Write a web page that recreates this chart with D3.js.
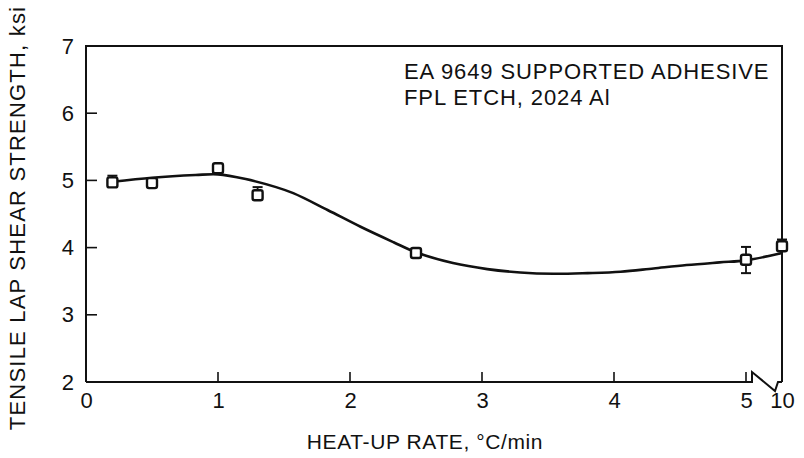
<!DOCTYPE html>
<html>
<head>
<meta charset="utf-8">
<script src="https://cdn.jsdelivr.net/npm/d3@7"></script>
<style>
  html, body { margin: 0; padding: 0; background: #fff; }
  svg { display: block; }
  text { font-family: "Liberation Sans", Arial, Helvetica, sans-serif; fill: #111; }
</style>
</head>
<body>
<svg id="chart" width="804" height="458"></svg>
<script>
// Measured shear strength (ksi) vs heat-up rate (°C/min)
const rates     = [0.2, 0.5, 1.0, 1.3, 2.5, 5, 10];
const strength  = [4.97, 4.96, 5.18, 4.78, 3.92, 3.82, 4.02];
const errLow    = [null, null, null, null, null, 3.62, null];
const errHigh   = [5.07, null, 5.23, 4.90, null, 4.01, 4.12];

// Smoothed trend curve through the data
const fitX = [0.2, 0.5, 0.83, 1.0, 1.21, 1.44, 1.57, 1.83, 2.08, 2.33, 2.5, 2.78, 3.04, 3.29, 3.54, 3.8, 4.05, 4.3, 4.55, 4.8, 5.0, 10];
const fitY = [4.98, 5.04, 5.08, 5.09, 5.02, 4.90, 4.81, 4.56, 4.31, 4.08, 3.93, 3.77, 3.68, 3.63, 3.61, 3.62, 3.64, 3.69, 3.74, 3.78, 3.81, 3.92];

// Axis ticks (the x axis has a break between 5 and 10)
const xTicks = [0, 1, 2, 3, 4, 5, 10];
const yTicks = [2, 3, 4, 5, 6, 7];

const annotation = ["EA 9649 SUPPORTED ADHESIVE", "FPL ETCH, 2024 Al"];
const xTitle = "HEAT-UP RATE, °C/min";
const yTitle = "TENSILE LAP SHEAR STRENGTH, ksi";

const svg = d3.select("#chart");
const plotL = 86, plotR = 782, plotT = 46, plotB = 382;

// Piecewise x scale: 0–5 linear, then a compressed jump to 10
const x = d3.scaleLinear().domain([0, 5, 10]).range([plotL, 746, plotR]);
const y = d3.scaleLinear().domain([2, 7]).range([plotB, plotT]);

const ink = "#111";
const font = '"Liberation Sans", Arial, sans-serif';
const g = svg.append("g");

// Frame: left axis, top and right edges
g.append("path")
  .attr("d", `M${plotL},${plotB} V${plotT} H${plotR} V${plotB}`)
  .attr("fill", "none").attr("stroke", ink).attr("stroke-width", 2);

// Bottom axis with a zig-zag break before 10
const bx = x(5) + 6;
g.append("path")
  .attr("d", `M${plotL},${plotB} H${bx} V${plotB - 10} L${bx + 23},${plotB + 9} L${bx + 26},${plotB} H${plotR}`)
  .attr("fill", "none").attr("stroke", ink).attr("stroke-width", 2).attr("stroke-linejoin", "miter");

// Tick labels, with short inward tick marks drawn separately
const xAxis = d3.axisBottom(x).tickValues(xTicks).tickSize(0).tickPadding(10).tickFormat(d3.format("d"));
const xa = g.append("g").attr("transform", `translate(0,${plotB})`).call(xAxis);
xa.select(".domain").remove();
xa.selectAll("text").attr("font-size", 22).attr("fill", ink).style("font-family", font);

g.selectAll(".xt").data(xTicks.filter(d => d > 0 && d < 10)).join("line")
  .attr("x1", d => x(d)).attr("x2", d => x(d))
  .attr("y1", plotB).attr("y2", plotB - 10)
  .attr("stroke", ink).attr("stroke-width", 1.6);

const yAxis = d3.axisLeft(y).tickValues(yTicks).tickSize(0).tickPadding(12).tickFormat(d3.format("d"));
const ya = g.append("g").attr("transform", `translate(${plotL},0)`).call(yAxis);
ya.select(".domain").remove();
ya.selectAll("text").attr("font-size", 22).attr("fill", ink).style("font-family", font);

g.selectAll(".yt").data(yTicks.filter(d => d > 2 && d < 7)).join("line")
  .attr("x1", plotL).attr("x2", plotL + 11)
  .attr("y1", d => y(d)).attr("y2", d => y(d))
  .attr("stroke", ink).attr("stroke-width", 1.6);

// Trend curve
const line = d3.line().x(d => x(d[0])).y(d => y(d[1])).curve(d3.curveCatmullRom.alpha(0.5));
g.append("path")
  .datum(fitX.map((v, i) => [v, fitY[i]]))
  .attr("d", line)
  .attr("fill", "none").attr("stroke", ink).attr("stroke-width", 2.6);

// Error bars
const pts = rates.map((r, i) => ({ r, v: strength[i], lo: errLow[i], hi: errHigh[i] }));
const cap = 5;
pts.forEach(p => {
  const cx = x(p.r);
  [p.lo, p.hi].forEach(e => {
    if (e == null) return;
    g.append("line").attr("x1", cx).attr("x2", cx).attr("y1", y(p.v)).attr("y2", y(e))
      .attr("stroke", ink).attr("stroke-width", 1.8);
    g.append("line").attr("x1", cx - cap).attr("x2", cx + cap).attr("y1", y(e)).attr("y2", y(e))
      .attr("stroke", ink).attr("stroke-width", 2);
  });
});

// Open square markers
const s = 10;
g.selectAll(".pt").data(pts).join("rect")
  .attr("x", d => x(d.r) - s / 2).attr("y", d => y(d.v) - s / 2)
  .attr("width", s).attr("height", s).attr("rx", 2)
  .attr("fill", "#fff").attr("stroke", ink).attr("stroke-width", 2.4);

// Annotation block
g.selectAll(".ann").data(annotation).join("text")
  .attr("x", 404).attr("y", (d, i) => 79 + i * 26)
  .attr("font-size", 22).attr("letter-spacing", 0.9).text(d => d);

// Axis titles
svg.append("text").attr("x", 425).attr("y", 449)
  .attr("text-anchor", "middle").attr("font-size", 21).attr("letter-spacing", 0.6).text(xTitle);
svg.append("text").attr("transform", "translate(25,218) rotate(-90)")
  .attr("text-anchor", "middle").attr("font-size", 22).attr("letter-spacing", 1.2).text(yTitle);
</script>
</body>
</html>
